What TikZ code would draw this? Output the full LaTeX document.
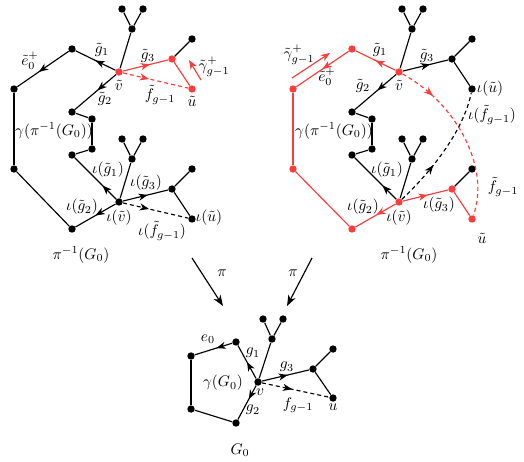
\documentclass[tikz,border=0pt]{standalone}
\usetikzlibrary{arrows.meta,decorations.markings}
\definecolor{mred}{RGB}{250,62,62}
\tikzset{
 dot/.style={circle,fill=black,inner sep=0pt,minimum size=4.8pt},
 rdot/.style={circle,fill=mred,inner sep=0pt,minimum size=4.8pt},
 edge/.style={line width=0.75pt},
 redge/.style={line width=0.75pt,color=mred},
 dsh/.style={dash pattern=on 2.6pt off 2pt},
 marr/.style={postaction={decorate,decoration={markings,mark=at position #1 with {\arrow{Stealth[length=6pt,width=4.6pt,inset=1.8pt]}}}}},
 tip/.style={-{Stealth[length=6pt,width=4.6pt,inset=1.8pt]}},
 lbl/.style={inner sep=0pt},
}
\begin{document}
\begin{tikzpicture}[x=0.65pt,y=-0.65pt]
\useasboundingbox (0,0) rectangle (524,461);
% ================= LEFT GRAPH =================
\node[rdot] (Lv) at (119,72) {};
\node[dot] (Lf) at (132,29) {};
\node[dot] (Lt1) at (122,9) {};
\node[dot] (Lt2) at (143,9) {};
\node[dot] (La) at (72,49) {};
\node[dot] (Lb) at (14,89) {};
\node[dot] (Lc) at (14,169) {};
\node[dot] (Ld) at (72,229) {};
\node[dot] (Lw) at (119,202) {};
\node[dot] (Le) at (72,112) {};
\node[dot] (Lg) at (92,119) {};
\node[dot] (Lh) at (92,149) {};
\node[dot] (Li) at (72,155) {};
\node[rdot] (Lj) at (172,59) {};
\node[dot] (Lk) at (192,39) {};
\node[rdot] (Lu) at (192,89) {};
\node[dot] (Lwf) at (132,159) {};
\node[dot] (Lwt1) at (122,139) {};
\node[dot] (Lwt2) at (143,139) {};
\node[dot] (Lwj) at (172,189) {};
\node[dot] (Lwk) at (192,169) {};
\node[dot] (Lwu) at (192,219) {};
\draw[edge] (Lv) -- (Lf);
\draw[edge] (Lf) -- (Lt1);
\draw[edge] (Lf) -- (Lt2);
\draw[edge,marr=0.5] (Lv) -- (La);
\draw[edge,marr=0.58] (La) -- (Lb);
\draw[edge] (Lb) -- (Lc);
\draw[edge] (Lc) -- (Ld);
\draw[edge,marr=0.5] (Lw) -- (Ld);
\draw[edge,marr=0.45] (Lv) -- (Le);
\draw[edge] (Le) -- (Lg);
\draw[edge] (Lg) -- (Lh);
\draw[edge] (Lh) -- (Li);
\draw[edge,marr=0.33] (Lw) -- (Li);
\draw[redge,marr=0.6] (Lv) -- (Lj);
\draw[edge] (Lj) -- (Lk);
\draw[redge] (Lj) -- (Lu);
\draw[redge,dsh,marr=0.4] (Lv) -- (Lu);
\draw[edge] (Lw) -- (Lwf);
\draw[edge] (Lwf) -- (Lwt1);
\draw[edge] (Lwf) -- (Lwt2);
\draw[edge,marr=0.55] (Lw) -- (Lwj);
\draw[edge] (Lwj) -- (Lwk);
\draw[edge] (Lwj) -- (Lwu);
\draw[edge,dsh,marr=0.4] (Lw) -- (Lwu);
\coordinate (LgA) at (201,80);
\coordinate (LgB) at (189,60);
\draw[redge,tip] (LgA) -- (LgB);
\node[lbl] (l1) at (30,61) {$\tilde e_0^+$};
\node[lbl] (l2) at (102,50) {$\tilde g_1$};
\node[lbl] (l3) at (148,56) {$\tilde g_3$};
\node[lbl] (l4) at (119,85) {$\tilde v$};
\node[lbl] (l5) at (105,99) {$\tilde g_2$};
\node[lbl] (l6) at (160,95) {$\tilde f_{g-1}$};
\node[lbl] (l7) at (192,101) {$\tilde u$};
\node[lbl] (l8) at (214,67) {$\tilde\gamma^+_{g-1}$};
\node[lbl] (l9) at (54,131) {$\gamma(\pi^{-1}(G_0))$};
\node[lbl] (l10) at (108,170) {$\iota(\tilde g_1)$};
\node[lbl] (l11) at (146,183) {$\iota(\tilde g_3)$};
\node[lbl] (l12) at (82,207) {$\iota(\tilde g_2)$};
\node[lbl] (l13) at (119,218) {$\iota(\tilde v)$};
\node[lbl] (l14) at (162,231) {$\iota(\tilde f_{g-1})$};
\node[lbl] (l15) at (209,218) {$\iota(\tilde u)$};
\node[lbl] (l16) at (81,255) {$\pi^{-1}(G_0)$};
% ================= RIGHT GRAPH =================
\node[rdot] (Rv) at (399,72) {};
\node[dot] (Rf) at (412,29) {};
\node[dot] (Rt1) at (402,9) {};
\node[dot] (Rt2) at (423,9) {};
\node[rdot] (Ra) at (352,49) {};
\node[rdot] (Rb) at (293,89) {};
\node[rdot] (Rc) at (293,169) {};
\node[rdot] (Rd) at (352,229) {};
\node[rdot] (Rw) at (399,202) {};
\node[dot] (Re) at (352,112) {};
\node[dot] (Rg) at (372,119) {};
\node[dot] (Rh) at (372,149) {};
\node[dot] (Ri) at (352,155) {};
\node[dot] (Rj) at (452,59) {};
\node[dot] (Rk) at (472,39) {};
\node[dot] (Ru) at (472,89) {};
\node[dot] (Rwf) at (412,159) {};
\node[dot] (Rwt1) at (402,139) {};
\node[dot] (Rwt2) at (423,139) {};
\node[rdot] (Rwj) at (452,189) {};
\node[dot] (Rwk) at (472,169) {};
\node[rdot] (Rwu) at (472,219) {};
\draw[edge] (Rv) -- (Rf);
\draw[edge] (Rf) -- (Rt1);
\draw[edge] (Rf) -- (Rt2);
\draw[redge,marr=0.5] (Rv) -- (Ra);
\draw[redge,marr=0.5] (Ra) -- (Rb);
\draw[redge] (Rb) -- (Rc);
\draw[redge] (Rc) -- (Rd);
\draw[redge,marr=0.48] (Rw) -- (Rd);
\draw[edge,marr=0.45] (Rv) -- (Re);
\draw[edge] (Re) -- (Rg);
\draw[edge] (Rg) -- (Rh);
\draw[edge] (Rh) -- (Ri);
\draw[edge,marr=0.33] (Rw) -- (Ri);
\draw[edge,marr=0.6] (Rv) -- (Rj);
\draw[edge] (Rj) -- (Rk);
\draw[edge] (Rj) -- (Ru);
\draw[edge] (Rw) -- (Rwf);
\draw[edge] (Rwf) -- (Rwt1);
\draw[edge] (Rwf) -- (Rwt2);
\draw[redge,marr=0.55] (Rw) -- (Rwj);
\draw[edge] (Rwj) -- (Rwk);
\draw[redge] (Rwj) -- (Rwu);
\draw[redge,dsh,marr=0.22] (Rv) .. controls (459,105) and (490,170) .. (Rwu);
\draw[edge,dsh,marr=0.36] (Rw) .. controls (434,169) and (464,129) .. (Ru);
\coordinate (RgA) at (292,78);
\coordinate (RgB) at (330,53);
\draw[redge,tip] (RgA) -- (RgB);
\node[lbl] (r1) at (299,55) {$\tilde\gamma^+_{g-1}$};
\node[lbl] (r2) at (327,77) {$\tilde e_0^+$};
\node[lbl] (r3) at (380,50) {$\tilde g_1$};
\node[lbl] (r4) at (427,56) {$\tilde g_3$};
\node[lbl] (r5) at (399,85) {$\tilde v$};
\node[lbl] (r6) at (363,86) {$\tilde g_2$};
\node[lbl] (r7) at (490,89) {$\iota(\tilde u)$};
\node[lbl] (r8) at (492,115) {$\iota(\tilde f_{g-1})$};
\node[lbl] (r9) at (334,131) {$\gamma(\pi^{-1}(G_0))$};
\node[lbl] (r10) at (387,170) {$\iota(\tilde g_1)$};
\node[lbl] (r11) at (363,207) {$\iota(\tilde g_2)$};
\node[lbl] (r12) at (399,218) {$\iota(\tilde v)$};
\node[lbl] (r13) at (439,205) {$\iota(\tilde g_3)$};
\node[lbl] (r14) at (503,187) {$\tilde f_{g-1}$};
\node[lbl] (r15) at (482,238) {$\tilde u$};
\node[lbl] (r16) at (409,255) {$\pi^{-1}(G_0)$};
% ================= PROJECTIONS =================
\coordinate (pA1) at (192,258);
\coordinate (pA2) at (223,306);
\coordinate (pB1) at (312,258);
\coordinate (pB2) at (287,306);
\draw[edge,-{Stealth[length=7pt,width=5.2pt,inset=2pt]}] (pA1) -- (pA2);
\draw[edge,-{Stealth[length=7pt,width=5.2pt,inset=2pt]}] (pB1) -- (pB2);
\node[lbl] (pl1) at (222,273) {$\pi$};
\node[lbl] (pl2) at (293,273) {$\pi$};
% ================= BOTTOM GRAPH =================
\node[dot] (Bv) at (258,382) {};
\node[dot] (Bf) at (272,339) {};
\node[dot] (Bt1) at (263,319) {};
\node[dot] (Bt2) at (283,319) {};
\node[dot] (Ba) at (236,342) {};
\node[dot] (Bb) at (191,356) {};
\node[dot] (Bc) at (191,409) {};
\node[dot] (Bd) at (236,423) {};
\node[dot] (Bj) at (313,369) {};
\node[dot] (Bk) at (333,349) {};
\node[dot] (Bu) at (333,398) {};
\draw[edge] (Bv) -- (Bf);
\draw[edge] (Bf) -- (Bt1);
\draw[edge] (Bf) -- (Bt2);
\draw[edge,marr=0.5] (Bv) -- (Ba);
\draw[edge,marr=0.42] (Ba) -- (Bb);
\draw[edge] (Bb) -- (Bc);
\draw[edge] (Bc) -- (Bd);
\draw[edge,marr=0.4] (Bv) -- (Bd);
\draw[edge,marr=0.55] (Bv) -- (Bj);
\draw[edge] (Bj) -- (Bk);
\draw[edge] (Bj) -- (Bu);
\draw[edge,dsh,marr=0.45] (Bv) -- (Bu);
\node[lbl] (b1) at (208,339) {$e_0$};
\node[lbl] (b2) at (253,353) {$g_1$};
\node[lbl] (b3) at (287,367) {$g_3$};
\node[lbl] (b4) at (223,383) {$\gamma(G_0)$};
\node[lbl] (b5) at (260,392) {$v$};
\node[lbl] (b6) at (253,410) {$g_2$};
\node[lbl] (b7) at (298,405) {$f_{g-1}$};
\node[lbl] (b8) at (333,407) {$u$};
\node[lbl] (b9) at (240,450) {$G_0$};
\end{tikzpicture}
\end{document}
